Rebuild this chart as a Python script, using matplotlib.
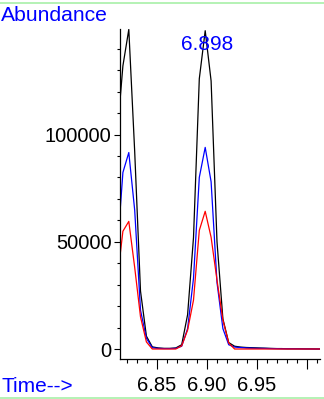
import matplotlib
matplotlib.use('Agg')
import matplotlib.pyplot as plt
from matplotlib.lines import Line2D
from matplotlib.ticker import MultipleLocator, FixedLocator

plt.rcParams['font.family'] = ['Liberation Sans', 'DejaVu Sans']

# retention time (min) of each scan
times = [6.8103, 6.8162, 6.8221, 6.8280, 6.8338, 6.8397, 6.8456, 6.8515, 6.8574,
         6.8632, 6.8691, 6.8750, 6.8809, 6.8868, 6.8926, 6.8985, 6.9044, 6.9103,
         6.9162, 6.9220, 6.9279, 6.9338, 6.9397, 6.9456, 6.9514, 6.9573, 6.9632,
         6.9691, 6.9750, 6.9808, 6.9867, 6.9926, 6.9985, 7.0044, 7.0103, 7.0162]

# ion abundances
black_ion = [99000, 132000, 149000, 92000, 27000, 6000, 1000, 500, 300,
             300, 500, 2000, 16000, 52000, 126000, 148400, 125000, 50000,
             14000, 3000, 1300, 900, 700, 600, 500, 400, 300,
             200, 200, 100, 100, 100, 50, 50, 0, 0]
blue_ion = [44600, 82300, 91600, 64700, 18100, 5000, 600, 300, 200,
            200, 300, 1300, 9500, 33000, 80000, 94000, 78000, 31000,
            9500, 2000, 900, 700, 500, 400, 300, 300, 200,
            200, 100, 100, 100, 50, 50, 0, 0, 0]
red_ion = [31400, 54900, 59500, 38000, 15000, 3300, 0, 0, 0,
           0, 0, 1500, 8800, 22800, 55300, 64200, 52100, 32100,
           13500, 2800, 0, 0, 0, 0, 0, 0, 0,
           0, 0, 0, 0, 0, 0, 0, 0, 0]

peak_label = '6.898'
y_ticks = [0, 50000, 100000]
y_ticklabels = ['0', '50000', '100000']
x_ticks = [6.85, 6.90, 6.95, 7.00]
x_ticklabels = ['6.85', '6.90', '6.95', '']

fig = plt.figure(figsize=(3.24, 3.99), dpi=100)
ax = fig.add_axes([120 / 324, 1 - 359 / 399, 200 / 324, 330 / 399])

ax.plot(times, black_ion, color='black', lw=0.9)
ax.plot(times, blue_ion, color='#0000ff', lw=0.9)
ax.plot(times, red_ion, color='#ff0000', lw=0.9)

ax.set_xlim(6.8133, 7.0133)
ax.set_ylim(-4660, 149200)

for s in ['top', 'right']:
    ax.spines[s].set_visible(False)
for s in ['left', 'bottom']:
    ax.spines[s].set_linewidth(0.9)

ax.xaxis.set_major_locator(FixedLocator(x_ticks))
ax.set_xticklabels(x_ticklabels)
ax.xaxis.set_minor_locator(MultipleLocator(0.01))
ax.yaxis.set_major_locator(FixedLocator(y_ticks))
ax.set_yticklabels(y_ticklabels)
ax.yaxis.set_minor_locator(MultipleLocator(10000))

ax.tick_params(axis='x', which='major', length=7.5, width=0.8, labelsize=14.5, pad=5)
ax.tick_params(axis='x', which='minor', length=3, width=0.8)
ax.tick_params(axis='y', which='major', length=4, width=0.8, labelsize=14.5, pad=2)
ax.tick_params(axis='y', which='minor', length=2.2, width=0.8)

ax.text(6.8743, 139500, peak_label, color='#0000ff', fontsize=15, ha='left', va='baseline')

fig.text(1 / 324, 1 - 21 / 399, 'Abundance', color='#0000ff', fontsize=15.2, ha='left', va='baseline')
fig.text(1 / 324, 1 - 392 / 399, 'Time-->', color='#0000ff', fontsize=15, ha='left', va='baseline')

# green frame lines at top and bottom
fig.add_artist(Line2D([0, 1], [1 - 2.5 / 399, 1 - 2.5 / 399], color='#a8f0a8', lw=1.2, transform=fig.transFigure))
fig.add_artist(Line2D([0, 1], [1 - 397.5 / 399, 1 - 397.5 / 399], color='#a8f0a8', lw=1.2, transform=fig.transFigure))

fig.savefig('out.png', dpi=100)
